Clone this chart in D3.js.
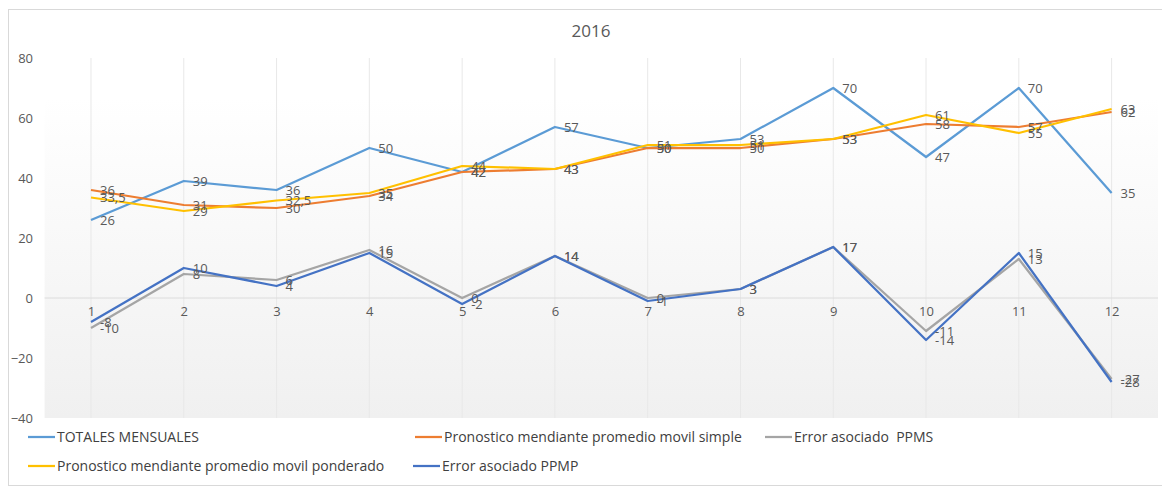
<!DOCTYPE html>
<html><head><meta charset="utf-8">
<script src="https://cdn.jsdelivr.net/npm/d3@7"></script>
<style>body{margin:0;background:#fff}svg{display:block;font-family:"Open Sans",sans-serif}</style>
</head><body><svg id="c" width="1162" height="489"></svg>
<script>
const months = [1,2,3,4,5,6,7,8,9,10,11,12];
const totales = [26,39,36,50,42,57,50,53,70,47,70,35];
const ppms = [36,31,30,34,42,43,50,50,53,58,57,62];
const ppmp = [33.5,29,32.5,35,44,43,51,51,53,61,55,63];
const errPPMS = [-10,8,6,16,0,14,0,3,17,-11,13,-27];
const errPPMP = [-8,10,4,15,-2,14,-1,3,17,-14,15,-28];
const yTicks = [-40,-20,0,20,40,60,80];
const title = "2016";
const series = [
  {name:"TOTALES MENSUALES", values:totales, color:"#5B9BD5"},
  {name:"Pronostico mendiante promedio movil simple", values:ppms, color:"#ED7D31"},
  {name:"Error asociado  PPMS", values:errPPMS, color:"#A5A5A5"},
  {name:"Pronostico mendiante promedio movil ponderado", values:ppmp, color:"#FFC000"},
  {name:"Error asociado PPMP", values:errPPMP, color:"#4472C4"}
];
const svg = d3.select("#c");
const L=44.6, R=1158, T=58, B=418;
const x = d3.scalePoint().domain(months).range([L,R]).padding(0.5);
const y = d3.scaleLinear().domain([-40,80]).range([B,T]);
svg.append("rect").attr("x",8.5).attr("y",9.5).attr("width",1160).attr("height",476).attr("fill","#fff").attr("stroke","#d9d9d9");
const defs = svg.append("defs");
const g = defs.append("linearGradient").attr("id","bg").attr("x1",0).attr("y1",0).attr("x2",0).attr("y2",1);
g.append("stop").attr("offset","0%").attr("stop-color","#ffffff");
g.append("stop").attr("offset","100%").attr("stop-color","#f0f0f0");
svg.append("rect").attr("x",L).attr("y",y(67)).attr("width",R-L).attr("height",B-y(67)).attr("fill","url(#bg)");
svg.append("g").selectAll("line").data(months).join("line")
  .attr("x1",d=>x(d)).attr("x2",d=>x(d)).attr("y1",T).attr("y2",B)
  .attr("stroke","#e8e8e8").attr("stroke-width",1);
svg.append("line").attr("x1",L).attr("x2",R).attr("y1",y(0)).attr("y2",y(0)).attr("stroke","#dcdcdc");
const ya = d3.axisLeft(y).tickValues(yTicks).tickSize(0).tickPadding(0);
const yg = svg.append("g").attr("transform","translate(33,0)").call(ya);
yg.select(".domain").remove();
yg.selectAll("text").attr("fill","#595959").attr("font-size",13).attr("font-family","'Open Sans',sans-serif");
const xa = d3.axisBottom(x).tickSize(0).tickPadding(0);
const xg = svg.append("g").attr("transform",`translate(0,${y(0)+9})`).call(xa);
xg.select(".domain").remove();
xg.selectAll("text").attr("fill","#595959").attr("font-size",13).attr("font-family","'Open Sans',sans-serif");
svg.append("text").attr("x",591).attr("y",37).attr("text-anchor","middle").attr("fill","#595959")
  .attr("font-size",17).text(title);
const line = d3.line().x((d,i)=>x(months[i])).y(d=>y(d));
series.forEach(s=>{
  svg.append("path").attr("d",line(s.values)).attr("fill","none").attr("stroke",s.color).attr("stroke-width",2.25).attr("stroke-linejoin","round");
});
const fmt = v => String(v).replace(".",",");
series.forEach(s=>{
  svg.append("g").selectAll("text").data(s.values).join("text")
    .attr("x",(d,i)=>x(months[i])+9).attr("y",d=>y(d)).attr("dy","0.35em")
    .attr("fill","#595959").attr("font-size",13)
    .text(fmt);
});
const leg = [
  {s:series[0], x:28, y:437},
  {s:series[1], x:415, y:437},
  {s:series[2], x:765, y:437},
  {s:series[3], x:28, y:466},
  {s:series[4], x:413, y:466}
];
leg.forEach(l=>{
  svg.append("line").attr("x1",l.x).attr("x2",l.x+27).attr("y1",l.y).attr("y2",l.y).attr("stroke",l.s.color).attr("stroke-width",2.25);
  svg.append("text").attr("x",l.x+29).attr("y",l.y).attr("dy","0.35em").attr("fill","#404040")
    .attr("font-size",14).attr("font-weight",500).style("white-space","pre").text(l.s.name);
});
</script></body></html>
